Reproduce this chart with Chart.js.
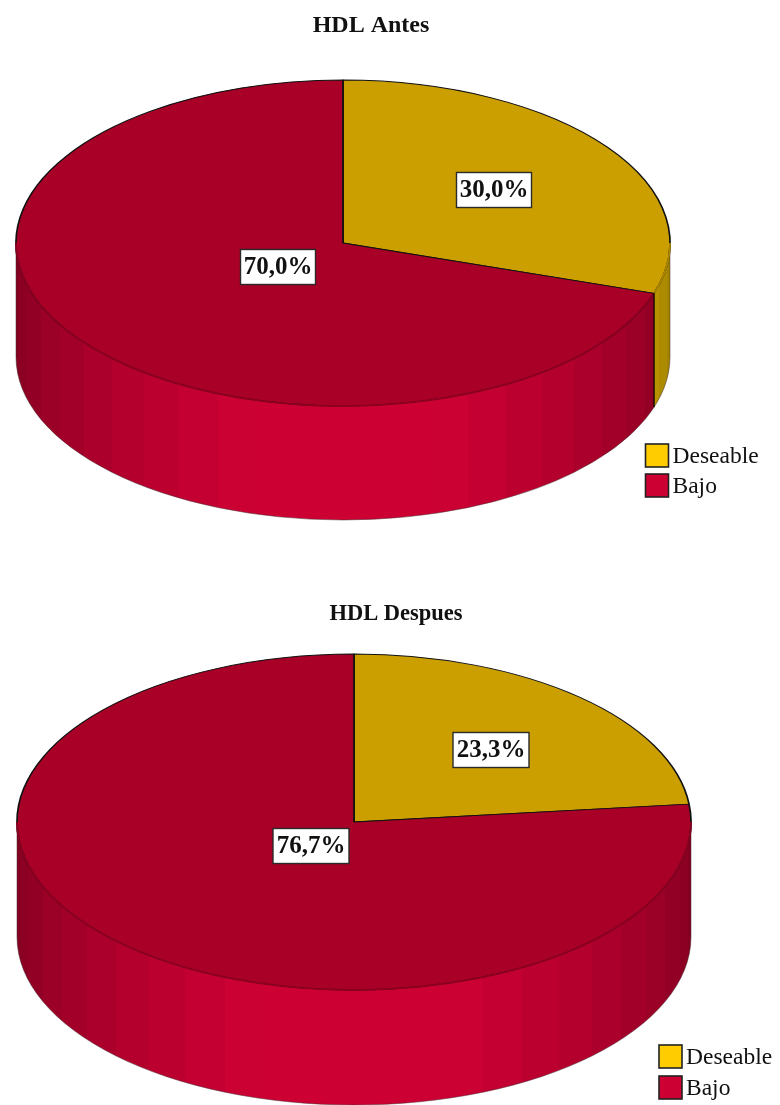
<!DOCTYPE html>
<html><head><meta charset="utf-8">
<script src="https://cdn.jsdelivr.net/npm/chart.js@4"></script>
<style>
html,body{margin:0;padding:0;background:#fff;width:780px;height:1105px;overflow:hidden}
canvas{position:absolute;filter:blur(0.5px)}
</style></head><body>
<canvas id="c1" style="left:-38px;top:0" width="818" height="552"></canvas>
<canvas id="c2" style="left:12px;top:552px" width="768" height="553"></canvas>
<script>
const categories = ['Deseable', 'Bajo'];
const antesValues = [30.0, 70.0];
const despuesValues = [23.3, 76.7];
const titleAntes = 'HDL Antes';
const titleDespues = 'HDL Despues';
const topColors = ['#cc9f00', '#a80026'];
const legendColors = ['#ffcc00', '#cc0033'];
const frontEdgeColors = ['#ad8700', '#8c0021'];
const FONT = '"Liberation Serif", serif';

function shade(hex, f) {
  const n = parseInt(hex.slice(1), 16);
  const c = s => Math.round(((n >> s) & 255) * f);
  return `rgb(${c(16)},${c(8)},${c(0)})`;
}

function wallGradient(ctx, cx, rx, base) {
  const g = ctx.createLinearGradient(cx - rx, 0, cx + rx, 0);
  const step = 7.5, bands = Math.round(180 / step);
  for (let i = 0; i < bands; i++) {
    const a0 = i * step, a1 = (i + 1) * step, mid = (a0 + a1) / 2;
    const th = 90 - Math.abs(90 - mid);
    const f = Math.min(1, 0.62 + 0.38 * th / 72);
    const p0 = (1 - Math.cos(a0 * Math.PI / 180)) / 2;
    const p1 = (1 - Math.cos(a1 * Math.PI / 180)) / 2;
    g.addColorStop(p0, shade(base, f));
    g.addColorStop(p1, shade(base, f));
  }
  return g;
}

const pie3d = {
  id: 'pie3d',
  afterLayout(chart, args, o) {
    chart.titleBlock.left += o.titleShift;
    chart.titleBlock.right += o.titleShift;
  },
  beforeDatasetsDraw(chart, args, o) {
    const ctx = chart.ctx, els = chart.getDatasetMeta(0).data;
    const cx = els[0].x, cy = els[0].y, rx = els[0].outerRadius, ry = rx * o.squash;
    const d = o.depth;
    ctx.save();
    els.forEach((el, i) => {
      const a = Math.max(el.startAngle, 0), b = Math.min(el.endAngle, Math.PI);
      if (b <= a) return;
      ctx.beginPath();
      ctx.ellipse(cx, cy, rx, ry, 0, a, b);
      ctx.ellipse(cx, cy + d, rx, ry, 0, b, a, true);
      ctx.closePath();
      ctx.fillStyle = wallGradient(ctx, cx, rx, legendColors[i]);
      ctx.fill();
    });
    // outer silhouette of the wall
    ctx.beginPath();
    ctx.moveTo(cx + rx, cy);
    ctx.lineTo(cx + rx, cy + d);
    ctx.ellipse(cx, cy + d, rx, ry, 0, 0, Math.PI);
    ctx.lineTo(cx - rx, cy);
    ctx.strokeStyle = 'rgba(70,50,50,0.5)';
    ctx.lineWidth = 1;
    ctx.stroke();
    ctx.restore();
    // squash the library's circular arcs into the tilted top face
    ctx.save();
    ctx.translate(cx, cy);
    ctx.scale(1, o.squash);
    ctx.translate(-cx, -cy);
  },
  afterDatasetsDraw(chart, args, o) {
    const ctx = chart.ctx, els = chart.getDatasetMeta(0).data;
    ctx.restore();
    const cx = els[0].x, cy = els[0].y, rx = els[0].outerRadius, ry = rx * o.squash;
    ctx.save();
    // soft front rim in place of the black outline
    els.forEach((el, i) => {
      const a = Math.max(el.startAngle, 0), b = Math.min(el.endAngle, Math.PI);
      if (b <= a) return;
      ctx.beginPath();
      ctx.ellipse(cx, cy, rx, ry, 0, a, b);
      ctx.strokeStyle = frontEdgeColors[i];
      ctx.lineWidth = 1.8;
      ctx.stroke();
    });
    // slice boundaries that run down the wall
    els.forEach(el => {
      const t = el.endAngle;
      if (t > 0 && t < Math.PI) {
        const x = cx + rx * Math.cos(t), y = cy + ry * Math.sin(t);
        ctx.beginPath();
        ctx.moveTo(x, y);
        ctx.lineTo(x, y + o.depth);
        ctx.strokeStyle = '#1a0a00';
        ctx.lineWidth = 1.5;
        ctx.stroke();
      }
    });
    // value labels
    ctx.font = `bold 25px ${FONT}`;
    ctx.textAlign = 'center';
    ctx.textBaseline = 'middle';
    els.forEach((el, i) => {
      const m = (el.startAngle + el.endAngle) / 2, k = o.labelRadius[i];
      const x = Math.round(cx + rx * k[0] * Math.cos(m)), y = Math.round(cy + ry * k[1] * Math.sin(m));
      const w = o.labelWidth, h = 35;
      ctx.fillStyle = '#fff';
      ctx.fillRect(x - w / 2, y - h / 2, w, h);
      ctx.strokeStyle = '#2a2a2a';
      ctx.lineWidth = 1.4;
      ctx.strokeRect(x - w / 2, y - h / 2, w, h);
      ctx.fillStyle = '#111';
      const txt = chart.data.datasets[0].data[i].toFixed(1).replace('.', ',') + '%';
      ctx.fillText(txt, x, y + 1);
    });
    // legend
    ctx.font = `23.5px ${FONT}`;
    ctx.textAlign = 'left';
    categories.forEach((name, i) => {
      const x = o.legendX, y = o.legendY + i * o.legendStep;
      ctx.fillStyle = legendColors[i];
      ctx.fillRect(x, y, 23, 23);
      ctx.strokeStyle = '#222';
      ctx.lineWidth = 1.6;
      ctx.strokeRect(x, y, 23, 23);
      ctx.fillStyle = '#111';
      ctx.fillText(name, x + o.legendGap, y + 13);
    });
    ctx.restore();
  }
};

function build(id, values, title, titleSize, titleTop, pad, cfg) {
  return new Chart(document.getElementById(id), {
    type: 'pie',
    data: { labels: categories, datasets: [{
      data: values,
      backgroundColor: topColors,
      borderColor: '#111',
      borderWidth: 1.7,
      clip: false,
      radius: cfg.radius
    }]},
    options: {
      responsive: false,
      animation: false,
      events: [],
      devicePixelRatio: 1,
      layout: { padding: pad },
      plugins: {
        title: { display: true, text: title, color: '#111',
          font: { family: FONT, size: titleSize, weight: 'bold', lineHeight: 1.2 },
          padding: { top: titleTop, bottom: 0 } },
        legend: { display: false },
        tooltip: { enabled: false },
        pie3d: cfg
      }
    },
    plugins: [pie3d]
  });
}

build('c1', antesValues, titleAntes, 24, 11.6,
  { left: 0, right: 56, top: 0, bottom: 106.4 },
  { radius: 327, squash: 163 / 327, depth: 114, labelRadius: [[0.569, 0.558], [0.246, 0.246]],
    labelWidth: 75, titleShift: 28, legendGap: 27,
    legendX: 683.5, legendY: 444, legendStep: 30 });
build('c2', despuesValues, titleDespues, 22.5, 48.5,
  { left: 0, right: 84, top: 0, bottom: 88.5 },
  { radius: 337, squash: 168 / 337, depth: 115, labelRadius: [[0.609, 0.576], [0.189, 0.194]],
    labelWidth: 76, titleShift: 42, legendGap: 27,
    legendX: 647, legendY: 493, legendStep: 31 });
</script>
</body></html>
